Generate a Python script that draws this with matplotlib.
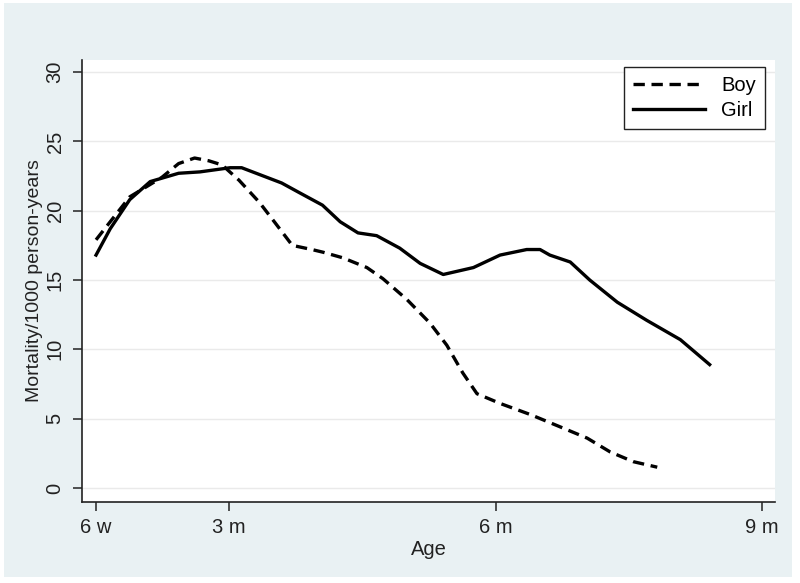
import matplotlib
matplotlib.use("Agg")
import matplotlib.pyplot as plt
from matplotlib.patches import Rectangle

plt.rcParams['font.family'] = ['Liberation Sans', 'DejaVu Sans']

# Age in months
girl_age = [1.50, 1.66, 1.88, 2.11, 2.43, 2.67, 3.01, 3.14, 3.59, 3.79, 4.05, 4.25,
            4.45, 4.66, 4.92, 5.15, 5.41, 5.75, 6.05, 6.35, 6.50, 6.61, 6.84, 7.06,
            7.37, 7.70, 8.08, 8.41]
girl_rate = [16.8, 18.7, 20.8, 22.1, 22.7, 22.8, 23.1, 23.1, 22.0, 21.3, 20.4, 19.2,
             18.4, 18.2, 17.3, 16.2, 15.4, 15.9, 16.8, 17.2, 17.2, 16.8, 16.3, 15.0,
             13.4, 12.1, 10.7, 8.9]

boy_age = [1.50, 1.88, 2.24, 2.43, 2.61, 2.77, 2.92, 3.11, 3.34, 3.52, 3.71, 3.93,
           4.06, 4.28, 4.55, 4.73, 5.00, 5.26, 5.45, 5.63, 5.79, 6.05, 6.39, 6.73,
           7.03, 7.29, 7.55, 7.82]
boy_rate = [17.9, 21.0, 22.4, 23.4, 23.8, 23.6, 23.3, 22.2, 20.6, 19.1, 17.5, 17.2,
            17.0, 16.6, 15.9, 15.1, 13.6, 11.9, 10.3, 8.3, 6.8, 6.1, 5.3, 4.4,
            3.6, 2.6, 1.9, 1.5]

x_ticks = [1.5, 3, 6, 9]
x_ticklabels = ["6 w", "3 m", "6 m", "9 m"]
y_ticks = [0, 5, 10, 15, 20, 25, 30]

W, H = 800, 583
fig = plt.figure(figsize=(W / 100, H / 100), dpi=100, facecolor='white')
fig.patches.append(Rectangle((4 / W, 1 - 577 / H), (792 - 4) / W, (577 - 3) / H,
                             transform=fig.transFigure, facecolor='#E9F1F3',
                             edgecolor='none', zorder=0))

ax = fig.add_axes([82 / W, 1 - 502 / H, (775 - 82) / W, (502 - 60) / H])
ax.set_zorder(2)
ax.set_facecolor('white')

ax.plot(boy_age, boy_rate, color='black', lw=2.4, linestyle=(0, (3.4, 2.0)),
        label='Boy', solid_capstyle='butt', dash_capstyle='butt')
ax.plot(girl_age, girl_rate, color='black', lw=2.4, label='Girl')

ax.set_xlim(1.342, 9.146)
ax.set_ylim(-1.01, 30.87)
ax.set_xticks(x_ticks)
ax.set_xticklabels(x_ticklabels)
ax.set_yticks(y_ticks)
ax.set_yticklabels([str(v) for v in y_ticks], rotation=90, va='center')

ax.yaxis.grid(True, color='#EAEAEA', lw=1.0)
ax.set_axisbelow(True)

for s in ['top', 'right']:
    ax.spines[s].set_visible(False)
for s in ['left', 'bottom']:
    ax.spines[s].set_color('#222222')
    ax.spines[s].set_linewidth(1.2)

ax.tick_params(axis='both', direction='out', length=6.5, width=1.1, colors='#222222',
               labelsize=14.5, labelcolor='#222222')
ax.tick_params(axis='y', pad=6)
ax.tick_params(axis='x', pad=5)

ax.set_xlabel('Age', fontsize=14.5, color='#222222', labelpad=2)
ax.set_ylabel('Mortality/1000 person-years', fontsize=14, color='#222222', labelpad=2)

leg = ax.legend(loc='upper right', bbox_to_anchor=(0.9856, 0.984), borderaxespad=0,
                fontsize=14.5, handlelength=3.6, frameon=True, fancybox=False,
                edgecolor='#222222', framealpha=1, borderpad=0.45, labelspacing=0.3,
                handletextpad=0.8)
leg.get_frame().set_linewidth(1.0)

fig.savefig('out.png', dpi=100, facecolor='white')
